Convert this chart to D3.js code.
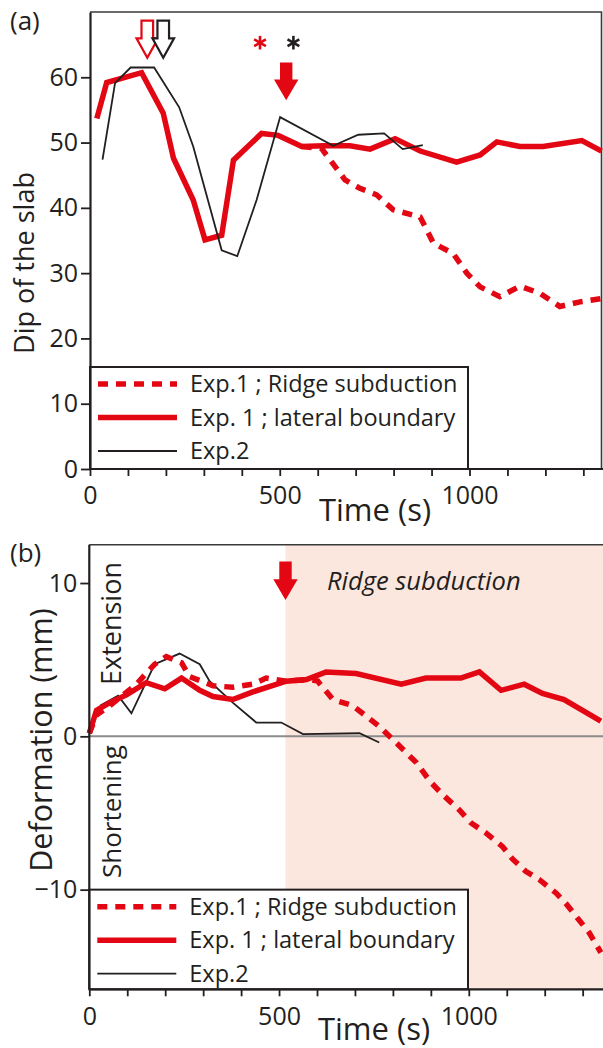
<!DOCTYPE html>
<html>
<head>
<meta charset="utf-8">
<script src="https://cdn.jsdelivr.net/npm/d3@7"></script>
<style>
  html, body { margin: 0; padding: 0; background: #fff; }
  svg { display: block; }
  text { font-family: "Open Sans", "Noto Sans", sans-serif; fill: #231f20; }
</style>
</head>
<body>
<svg id="chart" width="603" height="1048"></svg>
<script>
// ---------------- DATA ----------------
// Panel (a): dip of the slab (degrees) vs time (s)
const timeA_lateral = [18, 44, 136, 193, 220, 272, 303, 347, 378, 452, 496, 558, 615, 685, 738, 804, 870, 966, 1028, 1072, 1133, 1194, 1296, 1348];
const dipA_lateral  = [53.7, 59.2, 60.7, 54.5, 47.6, 41.2, 35.1, 35.8, 47.3, 51.4, 51.1, 49.4, 49.5, 49.5, 49.0, 50.6, 48.7, 47.0, 48.1, 50.1, 49.4, 49.4, 50.3, 48.7];

const timeA_ridge = [558, 610, 672, 711, 755, 799, 870, 905, 957, 993, 1028, 1080, 1133, 1186, 1238, 1291, 1348];
const dipA_ridge  = [49.4, 49.1, 44.3, 43.0, 42.0, 39.7, 38.6, 34.6, 33.0, 30.0, 27.9, 26.4, 28.0, 26.9, 24.9, 25.6, 26.1];

const timeA_exp2 = [33, 66, 107, 169, 235, 272, 347, 388, 439, 501, 641, 707, 775, 824, 877];
const dipA_exp2  = [47.4, 59.1, 61.5, 61.5, 55.4, 49.4, 33.5, 32.6, 41.2, 53.9, 49.5, 51.2, 51.4, 49.0, 49.6];

// Panel (b): deformation (mm) vs time (s)
const timeB_lateral = [0, 19, 54, 98, 150, 199, 243, 291, 326, 378, 431, 519, 572, 624, 703, 822, 887, 979, 1028, 1085, 1146, 1194, 1251, 1348];
const defB_lateral  = [0.2, 1.7, 2.2, 2.7, 3.5, 3.1, 3.8, 3.0, 2.6, 2.4, 2.9, 3.6, 3.7, 4.2, 4.1, 3.4, 3.8, 3.8, 4.2, 3.0, 3.4, 2.8, 2.4, 1.0];

const timeB_ridge = [0, 19, 54, 124, 172, 203, 243, 264, 326, 378, 431, 466, 519, 580, 602, 642, 694, 764, 808, 861, 900, 931, 975, 1006, 1045, 1089, 1115, 1150, 1186, 1229, 1256, 1291, 1317, 1348];
const defB_ridge  = [0.2, 1.4, 2.0, 3.4, 4.7, 5.2, 4.8, 3.9, 3.3, 3.2, 3.4, 3.8, 3.6, 3.7, 3.6, 2.4, 2.0, 0.65, -0.4, -1.7, -3.0, -3.8, -4.8, -5.65, -6.3, -7.2, -8.0, -8.8, -9.35, -10.2, -10.9, -12.0, -12.8, -14.1];

const timeB_exp2 = [28, 76, 111, 172, 238, 291, 317, 378, 440, 506, 563, 712, 764];
const defB_exp2  = [2.0, 2.65, 1.5, 4.7, 5.4, 4.7, 3.6, 2.2, 0.9, 0.9, 0.15, 0.2, -0.4];

// Ticks
const xTicks = [0, 100, 200, 300, 400, 500, 600, 700, 800, 900, 1000, 1100, 1200, 1300];
const xTickLabels = [0, 500, 1000];
const yTicksA = [0, 10, 20, 30, 40, 50, 60];
const yTicksB = [-10, 0, 10];

// Legend
const legendLabels = ["Exp.1 ; Ridge subduction", "Exp. 1 ; lateral boundary", "Exp.2"];

// Annotations (data space)
const ridgeStartTime = 517;     // start of ridge subduction (shaded, arrow)
const hollowArrowTimes = [151, 193];   // red, black
const asteriskTimes = [448, 536];      // red, black

// ---------------- DRAW ----------------
const RED = "#e30613";
const INK = "#231f20";
const svg = d3.select("#chart");

function zip(t, v) { return t.map((d, i) => [d, v[i]]); }

function arrowPath(tx, ty, sh, hh, hl, len) {
  const p = d3.path();
  p.moveTo(tx - sh, ty - len);
  p.lineTo(tx + sh, ty - len);
  p.lineTo(tx + sh, ty - hl);
  p.lineTo(tx + hh, ty - hl);
  p.lineTo(tx, ty);
  p.lineTo(tx - hh, ty - hl);
  p.lineTo(tx - sh, ty - hl);
  p.closePath();
  return p.toString();
}

function asterisk(g, cx, cy, r, color) {
  [90, 30, 150].forEach(a => {
    const rad = a * Math.PI / 180;
    g.append("line")
      .attr("x1", cx - r * Math.cos(rad)).attr("y1", cy - r * Math.sin(rad))
      .attr("x2", cx + r * Math.cos(rad)).attr("y2", cy + r * Math.sin(rad))
      .attr("stroke", color).attr("stroke-width", 2.6).attr("stroke-linecap", "butt");
  });
}

function drawLegend(g, x0, x1, y0, y1) {
  g.append("rect").attr("x", x0).attr("y", y0).attr("width", x1 - x0).attr("height", y1 - y0)
    .attr("fill", "#fff").attr("stroke", INK).attr("stroke-width", 2);
  const styles = [
    { stroke: RED, w: 5.5, dash: "10,8" },
    { stroke: RED, w: 5.5, dash: null },
    { stroke: INK, w: 1.8, dash: null }
  ];
  legendLabels.forEach((lab, i) => {
    const yy = y0 + 17 + i * 33.5;
    const s = styles[i];
    g.append("line").attr("x1", x0 + 8).attr("x2", x0 + 87).attr("y1", yy).attr("y2", yy)
      .attr("stroke", s.stroke).attr("stroke-width", s.w).attr("stroke-dasharray", s.dash);
    g.append("text").attr("x", x0 + 100).attr("y", yy).attr("dy", "0.35em")
      .attr("font-size", 23.5).text(lab);
  });
}

function styleAxis(g) {
  g.selectAll(".domain").attr("stroke", INK).attr("stroke-width", 2.2);
  g.selectAll(".tick line").attr("stroke", INK).attr("stroke-width", 1.8);
  g.selectAll(".tick text").attr("font-family", "Open Sans").attr("font-size", 25).attr("fill", INK);
}

// ===== Panel (a) =====
const xA = d3.scaleLinear().domain([0, 1000]).range([90, 469.5]);
const yA = d3.scaleLinear().domain([0, 70]).range([469, 12]);
const lineA = d3.line().x(d => xA(d[0])).y(d => yA(d[1]));

const gA = svg.append("g");
// frame (top, right)
gA.append("path")
  .attr("d", `M${xA(0)},${yA(70)}H601.5V${yA(0)}`)
  .attr("fill", "none").attr("stroke", "#3a3a3a").attr("stroke-width", 1.6);

gA.append("path").datum(zip(timeA_lateral, dipA_lateral)).attr("d", lineA)
  .attr("fill", "none").attr("stroke", RED).attr("stroke-width", 5.5).attr("stroke-linejoin", "miter");
gA.append("path").datum(zip(timeA_ridge, dipA_ridge)).attr("d", lineA)
  .attr("fill", "none").attr("stroke", RED).attr("stroke-width", 5.5).attr("stroke-dasharray", "10,8");
gA.append("path").datum(zip(timeA_exp2, dipA_exp2)).attr("d", lineA)
  .attr("fill", "none").attr("stroke", INK).attr("stroke-width", 1.8);

drawLegend(gA, xA(0), 468, 367, yA(0));

// axes
const axA_x = gA.append("g").attr("transform", `translate(0,${yA(0)})`)
  .call(d3.axisBottom(xA).tickValues(xTicks).tickSize(7).tickSizeOuter(0).tickPadding(10)
    .tickFormat(d => xTickLabels.includes(d) ? d : ""));
axA_x.select(".domain").attr("d", `M${xA(0)},0H603`);
styleAxis(axA_x);
const axA_y = gA.append("g").attr("transform", `translate(${xA(0)},0)`)
  .call(d3.axisLeft(yA).tickValues(yTicksA).tickSize(9).tickSizeOuter(0).tickPadding(3));
styleAxis(axA_y);

// arrows & asterisks
const hollowColors = [RED, INK];
hollowArrowTimes.forEach((t, i) => {
  gA.append("path").attr("d", arrowPath(xA(t), yA(63), 5.8, 10.8, 19.4, 37))
    .attr("fill", "#fff").attr("stroke", hollowColors[i]).attr("stroke-width", 2.2)
    .attr("stroke-linejoin", "miter");
});
gA.append("path").attr("d", arrowPath(xA(ridgeStartTime), yA(56.5), 6.2, 12.2, 20.7, 37.7))
  .attr("fill", RED);
asteriskTimes.forEach((t, i) => asterisk(gA, xA(t), yA(65.3), 6.8, hollowColors[i]));

// labels
gA.append("text").attr("x", 10).attr("y", 30).attr("font-size", 26).text("(a)");
gA.append("text").attr("transform", `translate(34,263) rotate(-90)`)
  .attr("text-anchor", "middle").attr("font-size", 27).text("Dip of the slab");
gA.append("text").attr("x", 375).attr("y", 521).attr("text-anchor", "middle")
  .attr("font-size", 31).text("Time (s)");

// ===== Panel (b) =====
const xB = d3.scaleLinear().domain([0, 1000]).range([89.3, 468.8]);
const yB = d3.scaleLinear().domain([-16.5, 12.5]).range([989.3, 544.7]);
const lineB = d3.line().x(d => xB(d[0])).y(d => yB(d[1]));

const gB = svg.append("g");
gB.append("rect").attr("x", xB(ridgeStartTime)).attr("y", yB(12.5))
  .attr("width", 603 - xB(ridgeStartTime)).attr("height", yB(-16.5) - yB(12.5))
  .attr("fill", "#fce7de");
gB.append("path").attr("d", `M${xB(0)},${yB(12.5)}H603`)
  .attr("fill", "none").attr("stroke", "#3a3a3a").attr("stroke-width", 1.6);
gB.append("line").attr("x1", xB(0)).attr("x2", 603).attr("y1", yB(0)).attr("y2", yB(0))
  .attr("stroke", "#8c8c8c").attr("stroke-width", 2);

gB.append("path").datum(zip(timeB_exp2, defB_exp2)).attr("d", lineB)
  .attr("fill", "none").attr("stroke", INK).attr("stroke-width", 1.8);
gB.append("path").datum(zip(timeB_lateral, defB_lateral)).attr("d", lineB)
  .attr("fill", "none").attr("stroke", RED).attr("stroke-width", 5.5);
gB.append("path").datum(zip(timeB_ridge, defB_ridge)).attr("d", lineB)
  .attr("fill", "none").attr("stroke", RED).attr("stroke-width", 5.5).attr("stroke-dasharray", "10,8");

drawLegend(gB, xB(0), 468, yB(-10), yB(-16.5));

const axB_x = gB.append("g").attr("transform", `translate(0,${yB(-16.5)})`)
  .call(d3.axisBottom(xB).tickValues(xTicks).tickSize(7).tickSizeOuter(0).tickPadding(11)
    .tickFormat(d => xTickLabels.includes(d) ? d : ""));
axB_x.select(".domain").attr("d", `M${xB(0)},0H603`);
styleAxis(axB_x);
const axB_y = gB.append("g").attr("transform", `translate(${xB(0)},0)`)
  .call(d3.axisLeft(yB).tickValues(yTicksB).tickSize(9).tickSizeOuter(0).tickPadding(3));
axB_y.select(".domain").attr("d", `M0,${yB(12.5)}V${yB(-16.5)}`);
styleAxis(axB_y);

gB.append("path").attr("d", arrowPath(xB(ridgeStartTime), yB(8.9), 6.2, 12.2, 20.7, 38.5))
  .attr("fill", RED);

gB.append("text").attr("x", 10).attr("y", 562).attr("font-size", 26).text("(b)");
gB.append("text").attr("transform", `translate(52,740) rotate(-90)`)
  .attr("text-anchor", "middle").attr("font-size", 30.5).text("Deformation (mm)");
gB.append("text").attr("x", 374).attr("y", 1040).attr("text-anchor", "middle")
  .attr("font-size", 31).text("Time (s)");
gB.append("text").attr("x", 327).attr("y", 590).attr("font-size", 25.5)
  .attr("font-style", "italic").attr("fill", "#333").text("Ridge subduction");
gB.append("text").attr("transform", `translate(121,685) rotate(-90)`)
  .attr("font-size", 27).text("Extension");
gB.append("text").attr("transform", `translate(121,878) rotate(-90)`)
  .attr("font-size", 26).text("Shortening");
</script>
</body>
</html>
